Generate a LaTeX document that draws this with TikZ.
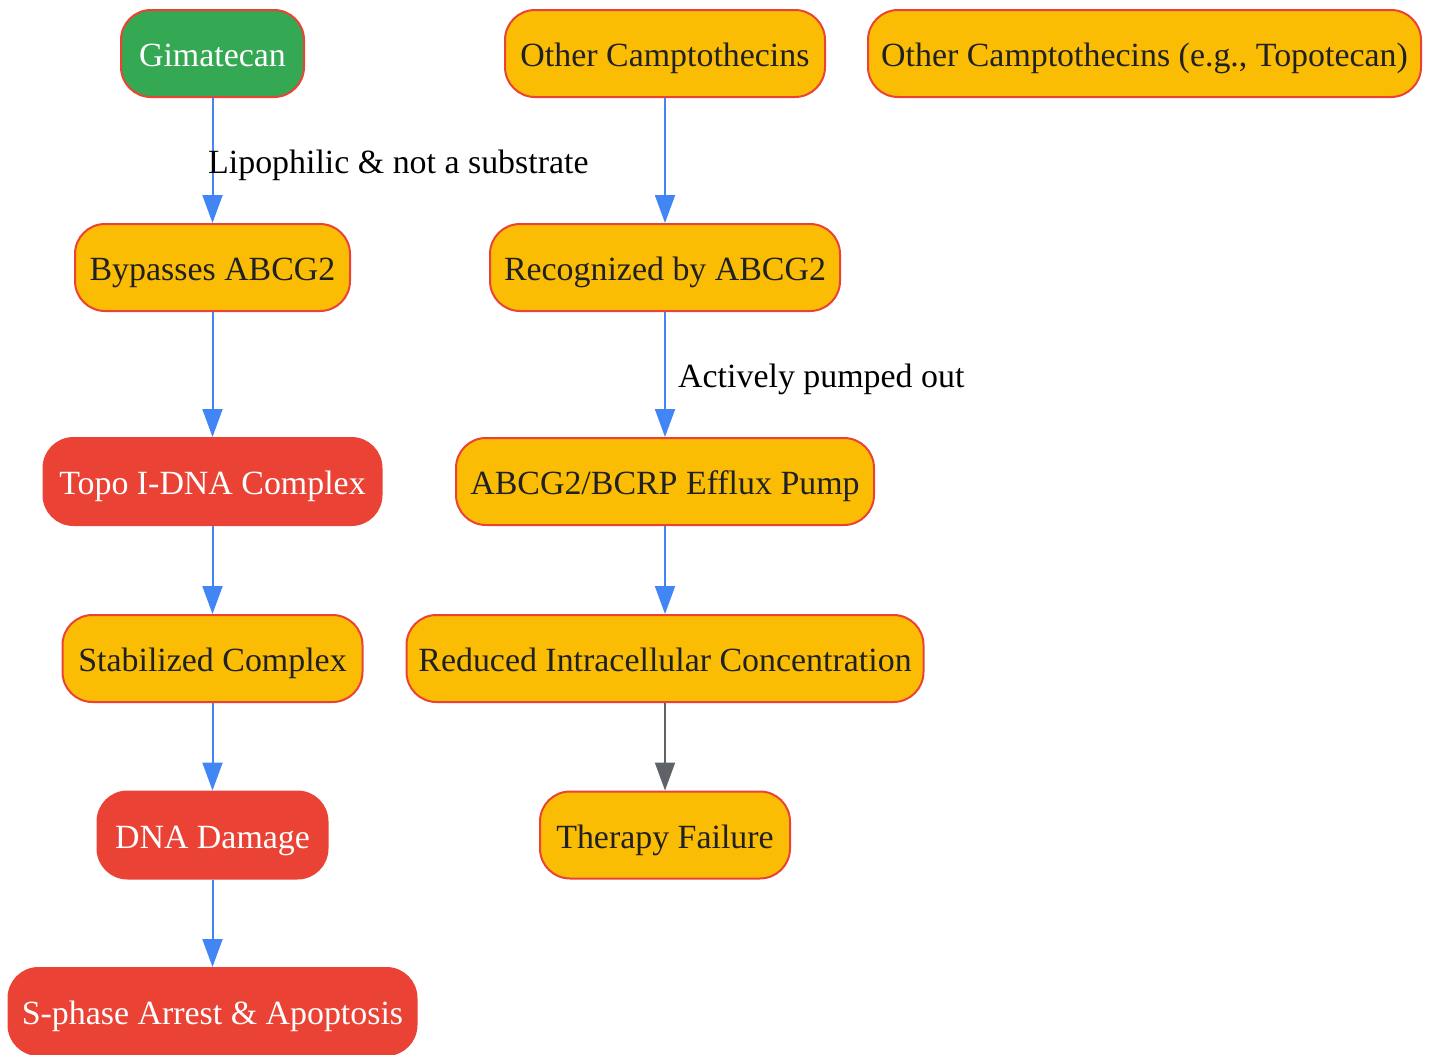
\documentclass[tikz,border=0pt]{standalone}
\usepackage{fontspec}
\setmainfont{Liberation Serif}
\usetikzlibrary{arrows.meta}
\definecolor{gyellow}{HTML}{FBBC04}
\definecolor{ggreen}{HTML}{34A853}
\definecolor{gred}{HTML}{EA4335}
\definecolor{gblue}{HTML}{4285F4}
\definecolor{ggray}{HTML}{5F6368}
\definecolor{gtext}{HTML}{202124}
\begin{document}
\begin{tikzpicture}[x=1pt,y=-1pt,
  box/.style={draw=gred, line width=2pt, rounded corners=30pt, minimum height=87pt,
    inner sep=0pt, text height=30pt, text depth=3.6pt, font=\fontsize{33.9}{40}\selectfont},
  yel/.style={box, fill=gyellow, text=gtext},
  grn/.style={box, fill=ggreen, text=white},
  rdd/.style={box, fill=gred, text=white},
  arr/.style={draw=gblue, line width=2pt, -{Triangle[length=28pt,width=20pt,fill=gblue]}},
  garr/.style={draw=ggray, line width=2pt, -{Triangle[length=28pt,width=20pt,fill=ggray]}},
  lbl/.style={font=\fontsize{33.9}{40}\selectfont, text=black, inner sep=0pt,
    text height=30pt, text depth=3.6pt, anchor=west}]
\useasboundingbox (0,0) rectangle (1430,1055);
\node[grn, minimum width=183pt] (gim) at (212.5,53.5) {Gimatecan};
\node[yel, minimum width=320pt] (oc) at (665,53.5) {Other Camptothecins};
\node[yel, minimum width=553pt] (oct) at (1144.5,53.5) {Other Camptothecins (e.g., Topotecan)};
\node[yel, minimum width=275pt] (byp) at (212.5,267.5) {Bypasses ABCG2};
\node[yel, minimum width=350pt] (rec) at (665,267.5) {Recognized by ABCG2};
\node[rdd, minimum width=338pt] (topo) at (212.5,481.5) {Topo I-DNA Complex};
\node[yel, minimum width=418pt] (pump) at (665,481.5) {ABCG2/BCRP Efflux Pump};
\node[yel, minimum width=300pt] (stab) at (212.5,658.5) {Stabilized Complex};
\node[yel, minimum width=517pt] (red) at (665,658.5) {Reduced Intracellular Concentration};
\node[rdd, minimum width=230pt] (dna) at (212.5,835) {DNA Damage};
\node[yel, minimum width=250pt] (fail) at (665,835) {Therapy Failure};
\node[rdd, minimum width=408pt] (sph) at (212.5,1011.5) {S-phase Arrest \& Apoptosis};
\draw[arr] (gim.south) -- (byp.north);
\node[lbl] (l1) at (208,160) {Lipophilic \& not a substrate};
\draw[arr] (byp.south) -- (topo.north);
\draw[arr] (topo.south) -- (stab.north);
\draw[arr] (stab.south) -- (dna.north);
\draw[arr] (dna.south) -- (sph.north);
\draw[arr] (oc.south) -- (rec.north);
\draw[arr] (rec.south) -- (pump.north);
\node[lbl] (l2) at (678,374) {Actively pumped out};
\draw[arr] (pump.south) -- (red.north);
\draw[garr] (red.south) -- (fail.north);
\end{tikzpicture}
\end{document}
